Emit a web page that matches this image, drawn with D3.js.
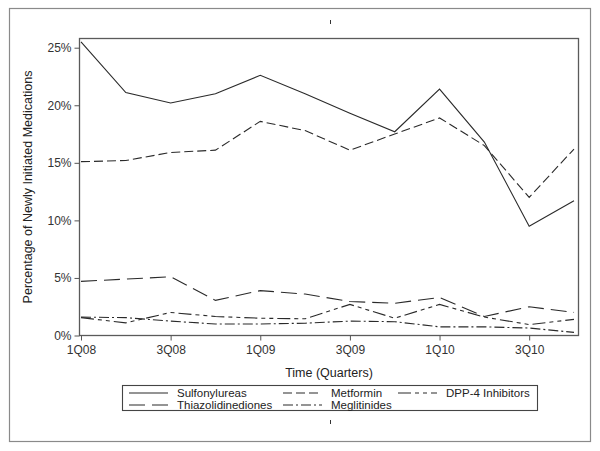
<!DOCTYPE html>
<html>
<head>
<meta charset="utf-8">
<script src="https://cdn.jsdelivr.net/npm/d3@7/dist/d3.min.js"></script>
<style>
  html, body { margin: 0; padding: 0; background: #fff; }
  svg { display: block; font-family: "Liberation Sans", Arial, sans-serif; }
</style>
</head>
<body>
<svg id="chart" width="600" height="451"></svg>
<script>
const quarters = ["1Q08","2Q08","3Q08","4Q08","1Q09","2Q09","3Q09","4Q09","1Q10","2Q10","3Q10","4Q10"];
const tickQuarters = ["1Q08","3Q08","1Q09","3Q09","1Q10","3Q10"];
const yTicks = [0, 5, 10, 15, 20, 25];

const sulfonylureas     = [25.5, 21.1, 20.2, 21.0, 22.6, 21.0, 19.3, 17.7, 21.4, 16.8, 9.5, 11.7];
const metformin         = [15.1, 15.2, 15.9, 16.1, 18.6, 17.8, 16.1, 17.5, 18.9, 16.5, 12.0, 16.2];
const thiazolidinediones= [4.7, 4.9, 5.1, 3.05, 3.9, 3.6, 2.95, 2.8, 3.3, 1.65, 2.5, 2.0];
const dpp4              = [1.55, 1.1, 2.0, 1.65, 1.5, 1.45, 2.7, 1.5, 2.7, 1.6, 0.95, 1.4];
const meglitinides      = [1.6, 1.55, 1.25, 1.0, 1.0, 1.07, 1.25, 1.2, 0.75, 0.75, 0.65, 0.27];

const seriesNames = ["Sulfonylureas","Metformin","DPP-4 Inhibitors","Thiazolidinediones","Meglitinides"];

const svg = d3.select("#chart");
const frame = {left: 79.5, right: 578.5, top: 38.5, bottom: 335.5};
const FONT = "'Liberation Sans', Arial, sans-serif";

// outer border
svg.append("rect").attr("x", 9.5).attr("y", 8.5).attr("width", 581).attr("height", 433)
  .attr("fill", "none").attr("stroke", "#8a8a8a").attr("stroke-width", 1.2);

// tiny marks (empty title / footnote)
svg.append("line").attr("x1", 330.5).attr("x2", 330.5).attr("y1", 20).attr("y2", 24)
  .attr("stroke", "#333").attr("stroke-width", 1);
svg.append("line").attr("x1", 330.5).attr("x2", 330.5).attr("y1", 420).attr("y2", 424)
  .attr("stroke", "#333").attr("stroke-width", 1);

const x = d3.scalePoint().domain(quarters).range([81, 574]);
const y = d3.scaleLinear().domain([0, 25]).range([335.5, 47.7]);

// plot frame
svg.append("rect").attr("x", frame.left).attr("y", frame.top)
  .attr("width", frame.right - frame.left).attr("height", frame.bottom - frame.top)
  .attr("fill", "none").attr("stroke", "#5a5a5a").attr("stroke-width", 1.3);

// y axis
const yAxis = d3.axisLeft(y).tickValues(yTicks).tickFormat(d => d + "%").tickSize(5).tickPadding(3);
const gy = svg.append("g").attr("transform", `translate(${frame.left},0)`).call(yAxis);
gy.select(".domain").remove();
gy.selectAll(".tick line").attr("stroke", "#555");
gy.selectAll(".tick text").attr("font-size", 12).attr("fill", "#333").attr("font-family", FONT);

// x axis
const xAxis = d3.axisBottom(x).tickValues(tickQuarters).tickSize(5).tickPadding(5);
const gx = svg.append("g").attr("transform", `translate(0,${frame.bottom})`).call(xAxis);
gx.select(".domain").remove();
gx.selectAll(".tick line").attr("stroke", "#555");
gx.selectAll(".tick text").attr("font-size", 12).attr("fill", "#333").attr("font-family", FONT);

// axis titles
svg.append("text").attr("transform", `translate(32,${(frame.top + frame.bottom) / 2}) rotate(-90)`)
  .attr("text-anchor", "middle").attr("font-size", 12.5).attr("fill", "#222")
  .text("Percentage of Newly Initiated Medications");
svg.append("text").attr("x", 329).attr("y", 377).attr("text-anchor", "middle")
  .attr("font-size", 12.5).attr("fill", "#222").text("Time (Quarters)");

const styles = {
  "Sulfonylureas":      {data: sulfonylureas, dash: null},
  "Metformin":          {data: metformin, dash: "9,4"},
  "Thiazolidinediones": {data: thiazolidinediones, dash: "16,7"},
  "DPP-4 Inhibitors":   {data: dpp4, dash: "13,4,4,4,4,4"},
  "Meglitinides":       {data: meglitinides, dash: "10,3,2,3"}
};

const line = d3.line().x((d, i) => x(quarters[i])).y(d => y(d));
const order = ["Meglitinides","DPP-4 Inhibitors","Thiazolidinediones","Metformin","Sulfonylureas"];
order.forEach(name => {
  const s = styles[name];
  svg.append("path").datum(s.data).attr("d", line)
    .attr("fill", "none").attr("stroke", "#2a2a2a").attr("stroke-width", 1.1)
    .attr("stroke-dasharray", s.dash);
});

// legend
svg.append("rect").attr("x", 122.5).attr("y", 385.5).attr("width", 415).attr("height", 25)
  .attr("fill", "none").attr("stroke", "#444").attr("stroke-width", 1.1);
const legendItems = [
  {name: "Sulfonylureas", col: 0, row: 0},
  {name: "Metformin", col: 1, row: 0},
  {name: "DPP-4 Inhibitors", col: 2, row: 0},
  {name: "Thiazolidinediones", col: 0, row: 1},
  {name: "Meglitinides", col: 1, row: 1}
];
const colX = [129, 283, 398];
const rowY = [393, 405];
legendItems.forEach(it => {
  const s = styles[it.name];
  const lx = colX[it.col], ly = rowY[it.row];
  svg.append("line").attr("x1", lx).attr("x2", lx + 39).attr("y1", ly).attr("y2", ly)
    .attr("stroke", "#2a2a2a").attr("stroke-width", 1.1).attr("stroke-dasharray", s.dash);
  svg.append("text").attr("x", lx + 48).attr("y", ly + 4).attr("font-size", 11.5)
    .attr("fill", "#222").text(it.name);
});
</script>
</body>
</html>
